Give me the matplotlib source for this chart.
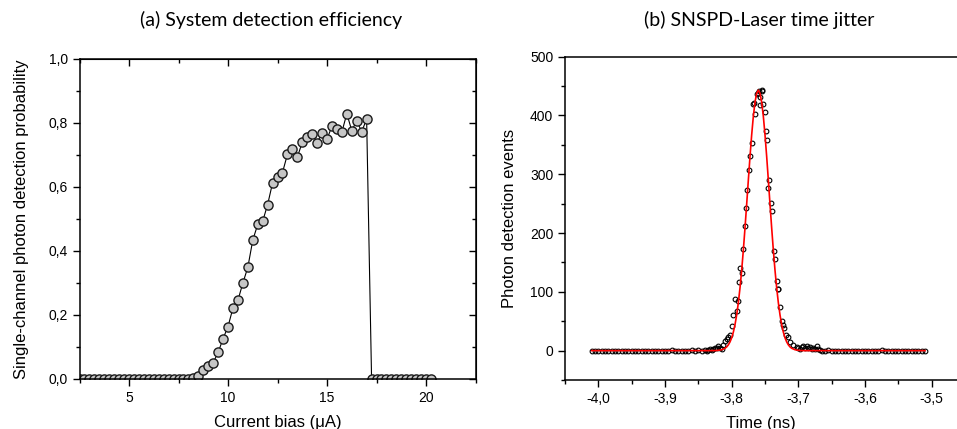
import matplotlib
matplotlib.use("Agg")
import matplotlib.pyplot as plt
from matplotlib.ticker import MultipleLocator, FuncFormatter

plt.rcParams['font.family'] = ['Liberation Sans', 'DejaVu Sans']

# (a) detection efficiency vs bias current
bias_ua = [2.5, 2.75, 3.0, 3.25, 3.5, 3.75, 4.0, 4.25, 4.5, 4.75, 5.0, 5.25,
           5.5, 5.75, 6.0, 6.25, 6.5, 6.75, 7.0, 7.25, 7.5, 7.75, 8.0, 8.25,
           8.5, 8.75, 9.0, 9.25, 9.5, 9.75, 10.0, 10.25, 10.5, 10.75, 11.0,
           11.25, 11.5, 11.75, 12.0, 12.25, 12.5, 12.75, 13.0, 13.25, 13.5,
           13.75, 14.0, 14.25, 14.5, 14.75, 15.0, 15.25, 15.5, 15.75, 16.0,
           16.25, 16.5, 16.75, 17.0, 17.25, 17.5, 17.75, 18.0, 18.25, 18.5,
           18.75, 19.0, 19.25, 19.5, 19.75, 20.0, 20.25]
efficiency = [0, 0, 0, 0, 0, 0, 0, 0, 0, 0, 0, 0,
              0, 0, 0, 0, 0, 0, 0, 0, 0, 0, 0, 0.003,
              0.008, 0.028, 0.040, 0.051, 0.083, 0.126, 0.164, 0.222, 0.246, 0.300, 0.349,
              0.434, 0.483, 0.493, 0.545, 0.613, 0.632, 0.645, 0.702, 0.720, 0.693,
              0.740, 0.756, 0.767, 0.738, 0.770, 0.750, 0.790, 0.780, 0.772, 0.829,
              0.776, 0.807, 0.773, 0.812, 0, 0, 0, 0, 0, 0,
              0, 0, 0, 0, 0, 0, 0]

# (b) jitter histogram
time_left = [-4.010, -4.005, -4.000, -3.995, -3.990, -3.985, -3.980, -3.975, -3.970,
             -3.965, -3.960, -3.955, -3.950, -3.945, -3.940, -3.935, -3.930, -3.925,
             -3.920, -3.915, -3.910, -3.905, -3.900, -3.895, -3.890, -3.885, -3.880,
             -3.875, -3.870, -3.865, -3.860, -3.855, -3.850, -3.845]
counts_left = [0, 0, 0, 0, 0, 0, 0, 0, 0,
               0, 0, 0, 0, 0, 0, 0, 0, 0,
               0, 0, 0, 0, 0, 0, 1, 0, 0,
               0, 0, 0, 1, 0, 1, 0]
time_peak = [-3.8400, -3.8375, -3.8350, -3.8325, -3.8300, -3.8275, -3.8250, -3.8225,
             -3.8200, -3.8175, -3.8150, -3.8125, -3.8100, -3.8075, -3.8050, -3.8025,
             -3.7995, -3.7975, -3.7950, -3.7915, -3.7900, -3.7885, -3.7870, -3.7845,
             -3.7830, -3.7800, -3.7785, -3.7765, -3.7745, -3.7725, -3.7700, -3.7680,
             -3.7660, -3.7645, -3.7625, -3.7600, -3.7590, -3.7580, -3.7575, -3.7550,
             -3.7540, -3.7525, -3.7500, -3.7485, -3.7465, -3.7450, -3.7435, -3.7415,
             -3.7395, -3.7365, -3.7345, -3.7325, -3.7310, -3.7300, -3.7275, -3.7250,
             -3.7225, -3.7210, -3.7190, -3.7160, -3.7125, -3.7075, -3.7025, -3.7000,
             -3.6975, -3.6950, -3.6925, -3.6900, -3.6875, -3.6850, -3.6825, -3.6800,
             -3.6775, -3.6750, -3.6725, -3.6700, -3.6675, -3.6650]
counts_peak = [1, 0, 1, 2, 1, 3, 4, 5,
               7, 5, 2, 10, 17, 19, 23, 26,
               42, 61, 88, 68, 85, 116, 141, 132,
               172, 212, 243, 273, 308, 331, 354, 420,
               421, 403, 437, 438, 442, 418, 431, 443,
               442, 420, 406, 374, 358, 277, 291, 251,
               237, 169, 155, 118, 105, 104, 74, 50,
               43, 39, 26, 23, 14, 9, 6, 5,
               3, 6, 7, 5, 8, 4, 6, 2,
               4, 3, 7, 2, 1, 0]
time_right = [-3.660, -3.655, -3.650, -3.645, -3.640, -3.635, -3.630, -3.625, -3.620,
              -3.615, -3.610, -3.605, -3.600, -3.595, -3.590, -3.585, -3.580, -3.575,
              -3.570, -3.565, -3.560, -3.555, -3.550, -3.545, -3.540, -3.535, -3.530,
              -3.525, -3.520, -3.515, -3.510]
counts_right = [0, 1, 0, 0, 0, 0, 0, 0, 0,
                0, 0, 0, 0, 0, 0, 0, 0, 1,
                0, 0, 0, 0, 0, 0, 0, 0, 0,
                0, 0, 0, 0]

# gaussian fit curve
fit_time = [-4.010, -3.830, -3.825, -3.820, -3.815, -3.810, -3.8075, -3.805, -3.8025,
            -3.800, -3.7975, -3.795, -3.7925, -3.790, -3.7875, -3.785, -3.7825, -3.780,
            -3.7775, -3.775, -3.7725, -3.770, -3.7675, -3.765, -3.7625, -3.760, -3.7575,
            -3.755, -3.7525, -3.750, -3.7475, -3.745, -3.7425, -3.740, -3.7375, -3.735,
            -3.7325, -3.730, -3.7275, -3.725, -3.7225, -3.720, -3.7175, -3.715, -3.7125,
            -3.710, -3.705, -3.700, -3.695, -3.690, -3.510]
fit_counts = [0, 0, 0.1, 0.5, 1.5, 4.0, 6.3, 9.8, 14.8,
              21.8, 31.4, 44.2, 60.7, 81.5, 106.8, 136.6, 170.9, 208.7,
              249.0, 290.1, 330.2, 367.0, 398.5, 422.7, 437.8, 443.0, 437.8,
              422.7, 398.5, 367.0, 330.2, 290.1, 249.0, 208.7, 170.9, 136.6,
              106.8, 81.5, 60.7, 44.2, 31.4, 21.8, 14.8, 9.8, 6.3,
              4.0, 1.5, 0.5, 0.1, 0, 0]


def comma(v, pos):
    return f"{v:.1f}".replace('.', ',')


fig = plt.figure(figsize=(9.57, 4.29), dpi=100)

# ---- (a)
ax1 = fig.add_axes([0.0831, 0.1166, 0.4138, 0.7459])
ax1.plot(bias_ua, efficiency, '-', color='black', lw=0.8, marker='o', ms=6.6,
         mfc='#c6c6c6', mec='#1a1a1a', mew=1.0)
ax1.set_xlim(2.5, 22.5)
ax1.set_ylim(0, 1.0)
ax1.xaxis.set_major_locator(MultipleLocator(5))
ax1.xaxis.set_minor_locator(MultipleLocator(2.5))
ax1.yaxis.set_major_locator(MultipleLocator(0.2))
ax1.yaxis.set_minor_locator(MultipleLocator(0.1))
ax1.yaxis.set_major_formatter(FuncFormatter(comma))
ax1.tick_params(which='major', direction='out', length=5, width=1, labelsize=10)
ax1.tick_params(which='minor', direction='out', length=3, width=1)
top1 = ax1.secondary_xaxis('top')
top1.xaxis.set_major_locator(MultipleLocator(5))
top1.xaxis.set_minor_locator(MultipleLocator(2.5))
top1.tick_params(which='major', direction='in', length=5, width=1, labeltop=False)
top1.tick_params(which='minor', direction='in', length=3, width=1)
right1 = ax1.secondary_yaxis('right')
right1.yaxis.set_major_locator(MultipleLocator(0.2))
right1.yaxis.set_minor_locator(MultipleLocator(0.1))
right1.tick_params(which='major', direction='in', length=5, width=1, labelright=False)
right1.tick_params(which='minor', direction='in', length=3, width=1)
for s in ax1.spines.values():
    s.set_linewidth(1.1)
ax1.set_xlabel('Current bias (μA)', fontsize=12, labelpad=7)
ax1.set_ylabel('Single-channel photon detection probability', fontsize=12, labelpad=14)

# ---- (b)
ax2 = fig.add_axes([0.5904, 0.1142, 0.4096, 0.7537])
ax2.plot(time_left + time_peak + time_right, counts_left + counts_peak + counts_right,
         'o', mfc='none', mec='black', ms=3.4, mew=0.8, zorder=2)
ax2.plot(fit_time, fit_counts, color='red', lw=1.2, zorder=3)
ax2.set_xlim(-4.05, -3.462)
ax2.set_ylim(-50, 500)
ax2.xaxis.set_major_locator(MultipleLocator(0.1))
ax2.xaxis.set_minor_locator(MultipleLocator(0.05))
ax2.xaxis.set_major_formatter(FuncFormatter(comma))
ax2.yaxis.set_major_locator(MultipleLocator(100))
ax2.yaxis.set_minor_locator(MultipleLocator(50))
ax2.tick_params(which='major', direction='out', length=5, width=1, labelsize=10)
ax2.tick_params(which='minor', direction='out', length=3, width=1)
ax2.spines['right'].set_visible(False)
for s in ax2.spines.values():
    s.set_linewidth(1.1)
ax2.set_xlabel('Time (ns)', fontsize=12, labelpad=7)
ax2.set_ylabel('Photon detection events', fontsize=12, labelpad=9)

fig.text(0.283, 0.953, '(a) System detection efficiency', ha='center', va='center',
         fontsize=14, family='Lato')
fig.text(0.793, 0.953, '(b) SNSPD-Laser time jitter', ha='center', va='center',
         fontsize=14, family='Lato')

fig.savefig('out.png', dpi=100)
